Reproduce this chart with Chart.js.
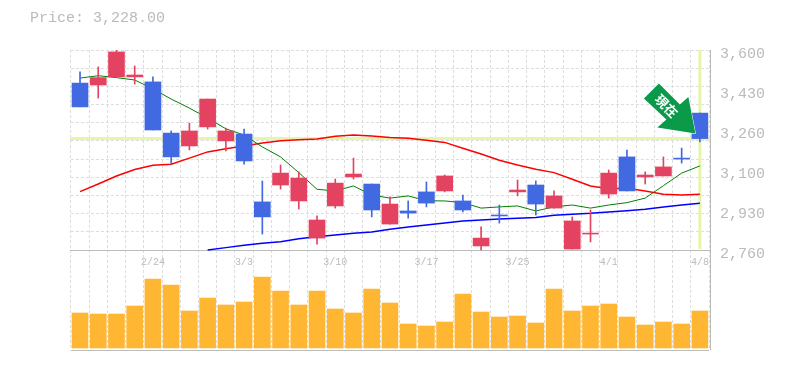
<!DOCTYPE html>
<html>
<head>
<meta charset="utf-8">
<style>
html, body { margin: 0; padding: 0; background: #fff; }
canvas { display: block; }
</style>
<script src="https://cdn.jsdelivr.net/npm/chart.js@4/dist/chart.umd.min.js"></script>
</head>
<body>
<canvas id="stockChart" width="785" height="370"></canvas>
<script>
var dates = ['2/18','2/19','2/20','2/21','2/24','2/25','2/26','2/27','2/28','3/3','3/4','3/5','3/6','3/7','3/10','3/11','3/12','3/13','3/14','3/17','3/18','3/19','3/21','3/24','3/25','3/26','3/27','3/28','3/31','4/1','4/2','4/3','4/4','4/7','4/8'];
var shownDates = ['2/24','3/3','3/10','3/17','3/25','4/1','4/8'];

var opens  = [3461,3453,3487,3487,3466,3251,3197,3277,3218,3247,2962,3033,2966,2810,2945,3067,3037,2869,2924,3004,3008,2966,2777,2907,3004,3033,2936,2764,2827,2995,3151,3067,3071,3146,3335];
var closes = [3361,3484,3592,3495,3264,3151,3260,3394,3260,3134,2899,3083,3062,2886,3041,3079,2928,2953,2915,2957,3071,2928,2810,2903,3012,2953,2987,2882,2831,3083,3008,3075,3109,3142,3228];
var highs  = [3508,3529,3600,3533,3487,3260,3293,3394,3272,3268,3050,3117,3088,2903,3058,3146,3037,2983,2966,3046,3075,2991,2857,2949,3054,3050,3008,2899,2928,3096,3180,3088,3151,3188,3335];
var lows   = [3361,3398,3487,3457,3264,3121,3180,3268,3176,3121,2827,3016,2932,2785,2936,3058,2899,2869,2894,2941,3004,2920,2760,2873,2987,2907,2936,2764,2794,2978,3008,3037,3071,3125,3214];

var ma5  = [3482,3492,3484,3474,3437,3394,3356,3314,3269,3243,3193,3151,3085,3015,3008,3029,2991,2978,2987,2967,2966,2959,2936,2941,2945,2924,2941,2949,2936,2949,2959,2978,3030,3083,3113];
var ma25 = [3005,3037,3071,3098,3116,3120,3146,3172,3185,3197,3209,3219,3223,3226,3238,3243,3239,3233,3229,3221,3212,3187,3163,3137,3117,3099,3085,3057,3029,3017,3019,3008,2994,2991,2994];
var ma75 = [null,null,null,null,null,null,null,2760,2770,2780,2788,2795,2807,2816,2823,2830,2836,2847,2857,2865,2873,2882,2886,2890,2893,2897,2906,2910,2914,2920,2925,2931,2941,2949,2956];

var volumes = [35,34,34,42,69,63,37,50,43,46,71,57,43,57,39,35,59,45,24,22,26,54,36,31,32,25,59,37,42,44,31,23,26,24,37];

var priceTicks = [3600,3432,3264,3096,2928,2760];
var priceTickLabels = ['3,600','3,430','3,260','3,100','2,930','2,760'];
var lastPrice = 3228;
var priceTitle = 'Price: 3,228.00';
var arrowLabel = '現在';

var UP = '#e34361', DOWN = '#4169e1', GREY = '#bbbbbb', GRID = '#dddddd', CROSS = '#e6f5a8';
var MONO = '"Liberation Mono", monospace';

function candleColor(i){
    return closes[i] >= opens[i] ? UP : DOWN;
}
var candleColors = dates.map(function(d, i){ return candleColor(i); });
var bodies = dates.map(function(d, i){ return [opens[i], closes[i]]; });
var wicks = dates.map(function(d, i){ return [lows[i], highs[i]]; });

var decorations = {
    id: 'decorations',
    beforeDatasetsDraw: function(chart){
        var ctx = chart.ctx, area = chart.chartArea;
        var x = chart.scales.x.getPixelForValue(dates.length - 1);
        var y = chart.scales.y.getPixelForValue(lastPrice);
        var paneBottom = chart.scales.y.getPixelForValue(2760);
        ctx.save();
        ctx.strokeStyle = CROSS;
        ctx.lineWidth = 3;
        ctx.beginPath();
        ctx.moveTo(area.left - 1, y);
        ctx.lineTo(area.right + 1, y);
        ctx.moveTo(x, area.top);
        ctx.lineTo(x, paneBottom - 1);
        ctx.stroke();
        ctx.restore();
    },
    afterDatasetsDraw: function(chart){
        var ctx = chart.ctx, area = chart.chartArea;
        var tipX = chart.scales.x.getPixelForValue(dates.length - 1) - 4.5;
        var tipY = chart.scales.y.getPixelForValue(lastPrice) - 5;
        ctx.save();
        // right frame line
        ctx.strokeStyle = GREY;
        ctx.lineWidth = 1;
        ctx.beginPath();
        ctx.moveTo(710.5, area.top);
        ctx.lineTo(710.5, area.bottom);
        ctx.stroke();
        // arrow, offsets from its tip
        ctx.translate(tipX, tipY);
        ctx.beginPath();
        ctx.moveTo(-36.5, -50);
        ctx.lineTo(-51.5, -35);
        ctx.lineTo(-29, -14);
        ctx.lineTo(-38, -6);
        ctx.lineTo(0, 0);
        ctx.lineTo(-7, -36.5);
        ctx.lineTo(-15.5, -29);
        ctx.closePath();
        ctx.fillStyle = '#0a9a4a';
        ctx.strokeStyle = '#ffffff';
        ctx.lineWidth = 1;
        ctx.stroke();
        ctx.fill();
        ctx.translate(-29, -27.5);
        ctx.rotate(Math.PI / 4);
        ctx.fillStyle = '#ffffff';
        ctx.font = 'bold 13px "Noto Sans CJK JP"';
        ctx.textAlign = 'center';
        ctx.textBaseline = 'middle';
        ctx.fillText(arrowLabel, 0, 0);
        ctx.restore();

        ctx.save();
        ctx.fillStyle = GREY;
        ctx.font = '15px ' + MONO;
        ctx.textBaseline = 'middle';
        ctx.fillText(priceTitle, 30, 18);
        ctx.restore();
    }
};

new Chart(document.getElementById('stockChart'), {
    type: 'bar',
    plugins: [decorations],
    data: {
        labels: dates,
        datasets: [
            { data: bodies, backgroundColor: candleColors, barThickness: 16, grouped: false, order: 1, yAxisID: 'y' },
            { data: wicks, backgroundColor: candleColors, barThickness: 1, grouped: false, order: 2, yAxisID: 'y' },
            { type: 'line', data: ma5, borderColor: '#008000', borderWidth: 1, pointRadius: 0, tension: 0, order: 3, yAxisID: 'y' },
            { type: 'line', data: ma25, borderColor: '#ff0000', borderWidth: 1.5, pointRadius: 0, tension: 0, order: 3, yAxisID: 'y' },
            { type: 'line', data: ma75, borderColor: '#0000ff', borderWidth: 1.5, pointRadius: 0, tension: 0, order: 3, yAxisID: 'y' },
            { data: volumes, backgroundColor: '#ffb733', barThickness: 16, grouped: false, order: 4, yAxisID: 'vol' }
        ]
    },
    options: {
        responsive: false,
        animation: false,
        layout: { padding: { left: 70.9, top: 50, bottom: 20, right: 0 } },
        plugins: { legend: { display: false }, tooltip: { enabled: false }, title: { display: false } },
        scales: {
            x: {
                position: { y: 2760 },
                offset: true,
                grid: { offset: true, color: GRID, drawTicks: false },
                border: { display: true, color: GREY, width: 1, dash: [3, 2] },
                ticks: {
                    autoSkip: false,
                    maxRotation: 0,
                    padding: 6,
                    color: GREY,
                    font: { family: MONO, size: 10 },
                    callback: function(value){
                        var label = this.getLabelForValue(value);
                        return shownDates.indexOf(label) >= 0 ? label : '';
                    }
                }
            },
            y: {
                position: 'right',
                min: 2340,
                max: 3600,
                afterBuildTicks: function(scale){
                    var list = [];
                    for(var i=0; i<=11; i++){
                        list.push({ value: 3600 - i * 840 / 11 });
                    }
                    scale.ticks = list;
                },
                afterFit: function(scale){ scale.width = 0; },
                grid: { color: GRID, drawTicks: false },
                border: { display: false, dash: [3, 2] },
                ticks: { display: false }
            },
            vol: {
                position: 'right',
                min: -2,
                max: 298,
                afterBuildTicks: function(scale){ scale.ticks = [{ value: -2 }]; },
                afterFit: function(scale){ scale.width = 0; },
                grid: { color: GREY, drawTicks: false },
                border: { display: false },
                ticks: { display: false }
            },
            yLabels: {
                position: 'right',
                min: 2340,
                max: 3600,
                afterBuildTicks: function(scale){
                    scale.ticks = priceTicks.map(function(v){ return { value: v }; });
                },
                afterFit: function(scale){ scale.width = 76; },
                grid: { display: false, drawTicks: false },
                border: { display: false },
                ticks: {
                    padding: 11,
                    labelOffset: 4,
                    color: GREY,
                    font: { family: MONO, size: 15 },
                    callback: function(value){
                        return priceTickLabels[priceTicks.indexOf(value)];
                    }
                }
            }
        }
    }
});
</script>
</body>
</html>
